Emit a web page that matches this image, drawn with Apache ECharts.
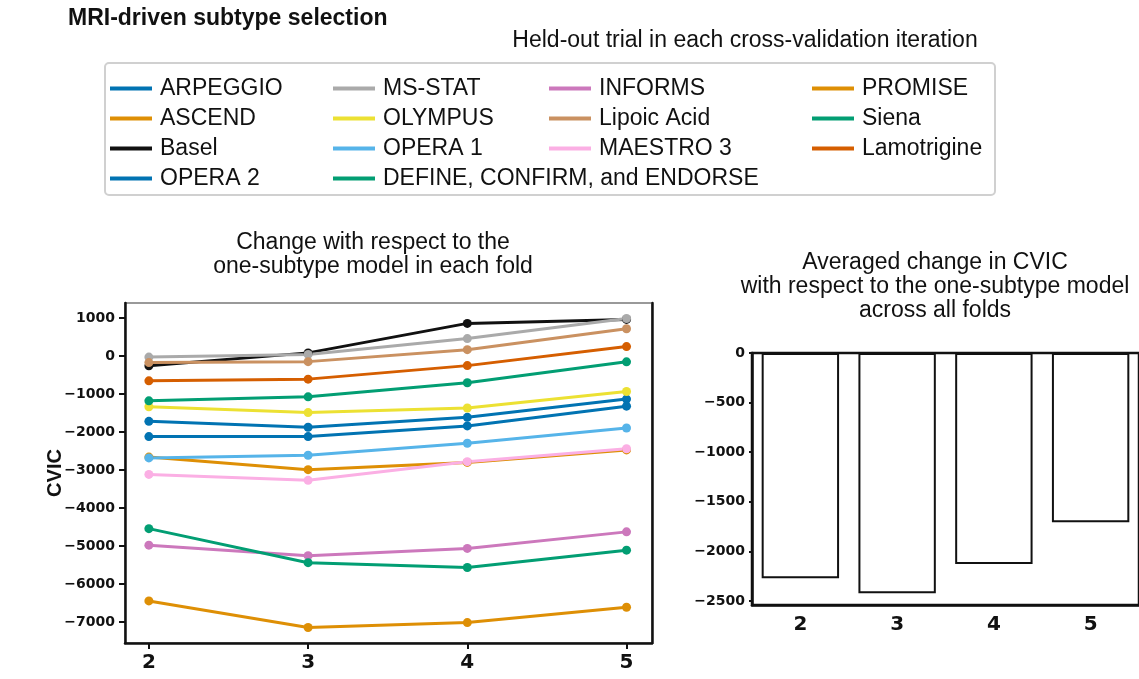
<!DOCTYPE html>
<html>
<head>
<meta charset="utf-8">
<script src="https://cdn.jsdelivr.net/npm/echarts@6/dist/echarts.min.js"></script>
<style>
  html, body { margin: 0; padding: 0; background: #fff; }
  #chart { width: 1139px; height: 679px; }
</style>
</head>
<body>
<div id="chart"></div>
<script>
  // number of subtypes per fold
  const folds = [2, 3, 4, 5]
  const foldLabels = ['2', '3', '4', '5']

  // change in CVIC vs the one-subtype model, one array per held-out trial
  const arpeggio = [-1720, -1875, -1615, -1135]
  const ascend = [-2660, -2990, -2800, -2470]
  const basel = [-260, 80, 855, 960]
  const opera2 = [-2120, -2120, -1840, -1320]
  const msStat = [-30, 40, 455, 985]
  const olympus = [-1335, -1490, -1370, -935]
  const opera1 = [-2680, -2610, -2295, -1895]
  const define = [-1180, -1075, -705, -155]
  const informs = [-4975, -5250, -5060, -4625]
  const lipoic = [-175, -150, 165, 715]
  const maestro3 = [-3115, -3270, -2780, -2440]
  const promise = [-6440, -7140, -7010, -6605]
  const siena = [-4540, -5435, -5560, -5105]
  const lamotrigine = [-655, -610, -255, 245]

  // averaged change across all folds
  const averaged = [-2270, -2421, -2128, -1706]

  const leftTicks = [1000, 0, -1000, -2000, -3000, -4000, -5000, -6000, -7000]
  const rightTicks = [0, -500, -1000, -1500, -2000, -2500]

  const trials = [
    { name: 'ARPEGGIO', data: arpeggio, color: '#0173B2' },
    { name: 'ASCEND', data: ascend, color: '#DE8F05' },
    { name: 'Basel', data: basel, color: '#111111' },
    { name: 'OPERA 2', data: opera2, color: '#0173B2' },
    { name: 'MS-STAT', data: msStat, color: '#AAAAAA' },
    { name: 'OLYMPUS', data: olympus, color: '#ECE133' },
    { name: 'OPERA 1', data: opera1, color: '#56B4E9' },
    { name: 'DEFINE, CONFIRM, and ENDORSE', data: define, color: '#029E73' },
    { name: 'INFORMS', data: informs, color: '#CC78BC' },
    { name: 'Lipoic Acid', data: lipoic, color: '#CA9161' },
    { name: 'MAESTRO 3', data: maestro3, color: '#FBAFE4' },
    { name: 'PROMISE', data: promise, color: '#DE8F05' },
    { name: 'Siena', data: siena, color: '#029E73' },
    { name: 'Lamotrigine', data: lamotrigine, color: '#D55E00' }
  ]

  const legendCols = [
    { left: 110, names: ['ARPEGGIO', 'ASCEND', 'Basel', 'OPERA 2'] },
    { left: 333, names: ['MS-STAT', 'OLYMPUS', 'OPERA 1', 'DEFINE, CONFIRM, and ENDORSE'] },
    { left: 549, names: ['INFORMS', 'Lipoic Acid', 'MAESTRO 3'] },
    { left: 812, names: ['PROMISE', 'Siena', 'Lamotrigine'] }
  ]

  const minus = (v) => String(v).replace('-', '\u2212')
  const tickFont = { fontFamily: 'DejaVu Sans', fontWeight: 'bold', fontSize: 14, color: '#111' }
  const foldFont = { fontFamily: 'DejaVu Sans', fontWeight: 'bold', fontSize: 20, color: '#111' }

  const myChart = echarts.init(document.getElementById('chart'))

  let lineSeries = trials.map((t) => ({
    name: t.name,
    type: 'line',
    xAxisIndex: 0,
    yAxisIndex: 0,
    data: t.data.map((v, i) => [folds[i], v]),
    color: t.color,
    symbol: 'circle',
    symbolSize: 9,
    lineStyle: { width: 3 },
    emphasis: { disabled: true }
  }))

  let option = {
    animation: false,
    backgroundColor: '#fff',
    legend: legendCols.map((c) => ({
      data: c.names,
      orient: 'vertical',
      left: c.left,
      top: 77,
      padding: 0,
      icon: 'rect',
      itemWidth: 42,
      itemHeight: 4,
      itemGap: 7,
      selectedMode: false,
      textStyle: {
        fontFamily: 'Liberation Sans',
        fontSize: 23,
        lineHeight: 23,
        color: '#111',
        padding: [0, 0, 0, 3]
      }
    })),
    grid: [
      { left: 125, top: 303, width: 527, height: 340, show: true, borderColor: '#999', borderWidth: 2 },
      { left: 752, top: 353, width: 390, height: 252, show: true, borderColor: '#111', borderWidth: 2.5 }
    ],
    xAxis: [
      {
        gridIndex: 0,
        type: 'value',
        min: 1.85,
        max: 5.16,
        axisLine: { onZero: false, lineStyle: { color: '#111', width: 2.5 } },
        axisTick: { length: 6, lineStyle: { color: '#111', width: 2 }, customValues: folds },
        axisLabel: { margin: 10, customValues: folds, ...foldFont },
        splitLine: { show: false }
      },
      {
        gridIndex: 1,
        type: 'category',
        data: foldLabels,
        axisLine: { onZero: false, lineStyle: { color: '#111', width: 2.5 } },
        axisTick: { alignWithLabel: true, length: 3, lineStyle: { color: '#111', width: 2 } },
        axisLabel: { margin: 10, ...foldFont }
      }
    ],
    yAxis: [
      {
        gridIndex: 0,
        type: 'value',
        min: -7546,
        max: 1391,
        name: 'CVIC',
        nameLocation: 'middle',
        nameGap: 60,
        nameMoveOverlap: false,
        nameTextStyle: { fontFamily: 'Liberation Sans', fontWeight: 'bold', fontSize: 20, color: '#111' },
        axisLine: { show: true, onZero: false, lineStyle: { color: '#111', width: 2.5 } },
        axisTick: { show: true, length: 6, lineStyle: { color: '#111', width: 2 }, customValues: leftTicks },
        axisLabel: { margin: 10, customValues: leftTicks, formatter: minus, ...tickFont },
        splitLine: { show: false }
      },
      {
        gridIndex: 0,
        type: 'value',
        position: 'right',
        min: -7546,
        max: 1391,
        axisLine: { show: true, onZero: false, lineStyle: { color: '#111', width: 2.5 } },
        axisTick: { show: false },
        axisLabel: { show: false },
        splitLine: { show: false }
      },
      {
        gridIndex: 1,
        type: 'value',
        min: -2540,
        max: 0,
        axisLine: { show: true, onZero: false, lineStyle: { color: '#111', width: 2.5 } },
        axisTick: { show: true, length: 3, lineStyle: { color: '#111', width: 2 }, customValues: rightTicks },
        axisLabel: { margin: 7, customValues: rightTicks, formatter: minus, ...tickFont },
        splitLine: { show: false }
      }
    ],
    graphic: [
      {
        type: 'rect',
        shape: { x: 105, y: 63, width: 890, height: 132, r: 4 },
        style: { fill: 'none', stroke: '#d0d0d0', lineWidth: 2 },
        z: -1
      },
      {
        type: 'text',
        left: 68,
        top: 7,
        style: { text: 'MRI-driven subtype selection', fontFamily: 'Liberation Sans', fontWeight: 'bold', fontSize: 23, fill: '#111' }
      },
      {
        type: 'text',
        x: 745,
        y: 41,
        style: {
          text: 'Held-out trial in each cross-validation iteration',
          fontFamily: 'Liberation Sans', fontSize: 23, fill: '#111',
          align: 'center', verticalAlign: 'middle'
        }
      },
      {
        type: 'text',
        x: 373,
        y: 255,
        style: {
          text: 'Change with respect to the\none-subtype model in each fold',
          fontFamily: 'Liberation Sans', fontSize: 23, lineHeight: 24, fill: '#111',
          align: 'center', verticalAlign: 'middle'
        }
      },
      {
        type: 'text',
        x: 935,
        y: 287,
        style: {
          text: 'Averaged change in CVIC\nwith respect to the one-subtype model\nacross all folds',
          fontFamily: 'Liberation Sans', fontSize: 23, lineHeight: 24, fill: '#111',
          align: 'center', verticalAlign: 'middle'
        }
      }
    ],
    series: lineSeries.concat([
      {
        type: 'bar',
        xAxisIndex: 1,
        yAxisIndex: 2,
        data: averaged,
        barWidth: '80%',
        itemStyle: { color: '#fff', borderColor: '#111', borderWidth: 2 },
        emphasis: { disabled: true }
      }
    ])
  }

  myChart.setOption(option)
</script>
</body>
</html>
